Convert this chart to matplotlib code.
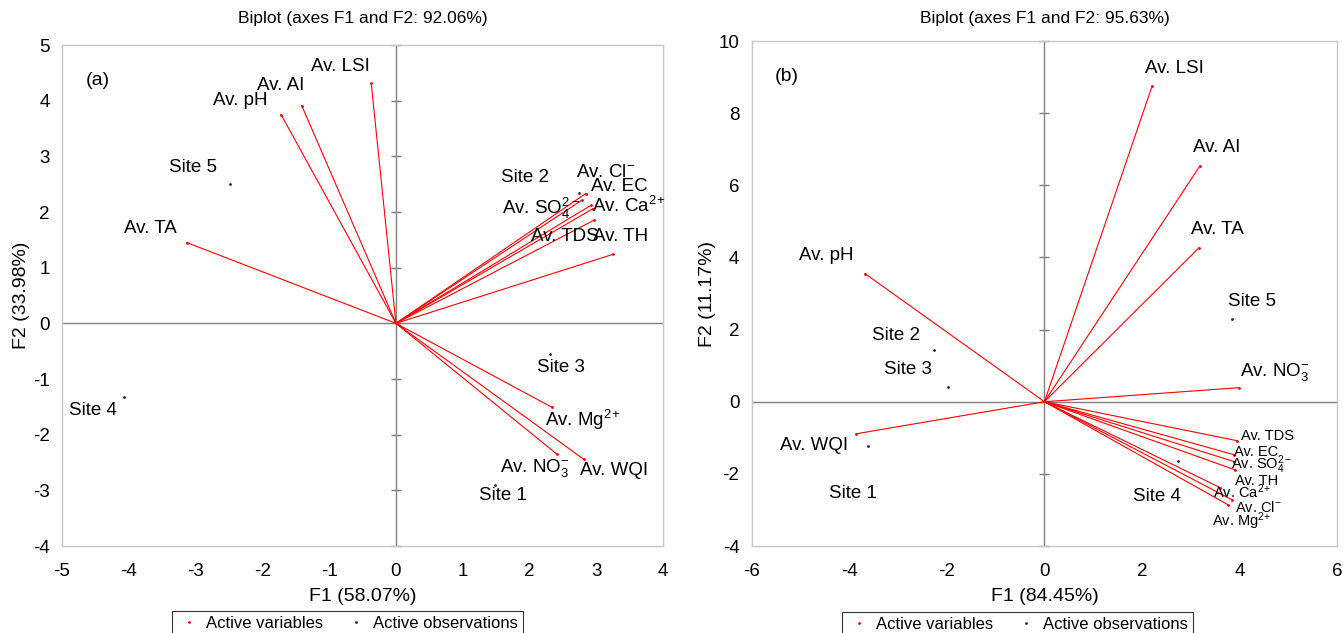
import numpy as np
import matplotlib
matplotlib.use("Agg")
import matplotlib.pyplot as plt
from matplotlib.lines import Line2D

plt.rcParams['font.family'] = ['Liberation Sans', 'DejaVu Sans']
plt.rcParams['mathtext.fontset'] = 'custom'
plt.rcParams['mathtext.rm'] = 'Liberation Sans'
plt.rcParams['mathtext.it'] = 'Liberation Sans'
plt.rcParams['axes.unicode_minus'] = False

# ---- panel (a) ----
a_vars = ['Av. LSI', 'Av. AI', 'Av. pH', 'Av. TA', 'Av. Cl$^{-}$', 'Av. EC',
          'Av. SO$_4^{2-}$', 'Av. Ca$^{2\\!+}$', 'Av. TDS', 'Av. TH',
          'Av. Mg$^{2\\!+}$', 'Av. NO$_3^{-}$', 'Av. WQI']
a_var_f1 = [-0.37, -1.41, -1.72, -3.13, 2.84, 2.92, 2.78, 2.95, 2.96, 3.25, 2.34, 2.41, 2.81]
a_var_f2 = [4.31, 3.91, 3.75, 1.45, 2.33, 2.12, 2.21, 2.06, 1.85, 1.24, -1.51, -2.35, -2.44]
a_sites = ['Site 1', 'Site 2', 'Site 3', 'Site 4', 'Site 5']
a_site_f1 = [1.48, 2.74, 2.31, -4.07, -2.49]
a_site_f2 = [-2.90, 2.35, -0.55, -1.33, 2.51]

# ---- panel (b) ----
b_vars = ['Av. LSI', 'Av. AI', 'Av. TA', 'Av. NO$_3^{-}$', 'Av. pH', 'Av. WQI',
          'Av. TDS', 'Av. EC', 'Av. SO$_4^{2-}$', 'Av. TH', 'Av. Ca$^{2\\!+}$',
          'Av. Cl$^{-}$', 'Av. Mg$^{2\\!+}$']
b_var_f1 = [2.21, 3.19, 3.17, 3.99, -3.68, -3.87, 3.95, 3.89, 3.89, 3.91, 3.60, 3.85, 3.77]
b_var_f2 = [8.76, 6.54, 4.27, 0.39, 3.55, -0.89, -1.08, -1.47, -1.66, -1.89, -2.38, -2.72, -2.86]
b_sites = ['Site 1', 'Site 2', 'Site 3', 'Site 4', 'Site 5']
b_site_f1 = [-3.62, -2.27, -1.98, 2.74, 3.85]
b_site_f2 = [-1.22, 1.44, 0.42, -1.64, 2.30]

# label offsets in pixels (dx, dy) and font sizes
a_var_off = [(-31, 17), (-21, 20), (-41, 14), (-37, 14), (20, 21), (28, 19),
             (-41, -8), (36, 3), (-29, -16), (8, 18), (30, -13), (-22, -14), (30, -11)]
a_site_off = [(8, -11), (-54, 15), (11, -14), (-31, -13), (-37, 16)]
b_var_off = [(22, 17), (17, 18), (18, 18), (36, 16), (-39, 18), (-42, -12),
             (30, 5), (22, 3), (28, -3), (22, -11), (22, -4), (26, -8), (13, -16)]
b_var_size = [13.5] * 6 + [10.5] * 7
b_site_off = [(-15, -48), (-38, 14), (-40, 17), (-21, -36), (20, 17)]


def biplot(ax, names, f1, f2, voff, vsize, sites, s1, s2, soff,
           xlim, ylim, xt, yt, title, xlabel, ylabel, tag, tpad, legx):
    ax.set_xlim(*xlim)
    ax.set_ylim(*ylim)
    ax.set_xticks(xt)
    ax.set_yticks(yt)
    ax.tick_params(length=0, labelsize=13.5)
    ax.tick_params(axis='x', pad=12)
    ax.tick_params(axis='y', pad=9)
    for s in ax.spines.values():
        s.set_color('#c8c8c8')
        s.set_linewidth(1.0)
    ax.axhline(0, color='#808080', lw=1.0, zorder=1)
    ax.axvline(0, color='#808080', lw=1.0, zorder=1)
    ax.plot(np.zeros(len(yt)), yt, ls='none', marker='_', ms=7, mew=1.0,
            color='#808080', zorder=1, clip_on=False)

    for name, x, y, off, fs in zip(names, f1, f2, voff, vsize):
        ax.plot([0, x], [0, y], color='red', lw=0.8, zorder=2)
        ax.plot(x, y, '.', color='red', ms=2, zorder=3)
        ax.annotate(name, (x, y), xytext=off, textcoords='offset pixels',
                    ha='center', va='center', fontsize=fs)
    for name, x, y, off in zip(sites, s1, s2, soff):
        ax.plot(x, y, '.', color='#1f2a4a', ms=2, zorder=3)
        ax.annotate(name, (x, y), xytext=off, textcoords='offset pixels',
                    ha='center', va='center', fontsize=13.5)

    ax.set_title(title, fontsize=12.5, pad=tpad)
    ax.set_xlabel(xlabel, fontsize=14, labelpad=6)
    ax.set_ylabel(ylabel, fontsize=14, labelpad=2)
    ax.text(0.06, 0.93, tag, transform=ax.transAxes, fontsize=14,
            ha='center', va='center')

    handles = [Line2D([], [], ls='none', marker='.', ms=2, color='red'),
               Line2D([], [], ls='none', marker='.', ms=2, color='#1f2a4a')]
    leg = ax.legend(handles, ['Active variables', 'Active observations'],
                    loc='upper center', bbox_to_anchor=(legx, -0.13),
                    ncol=2, frameon=True, fancybox=False, fontsize=12,
                    handlelength=1.4, handletextpad=0.3, columnspacing=1.3,
                    borderpad=0.3, borderaxespad=0)
    leg.get_frame().set_edgecolor('black')
    leg.get_frame().set_linewidth(0.8)


fig = plt.figure(figsize=(13.43, 6.33), dpi=100)
ax1 = fig.add_axes([0.0462, 0.1374, 0.4475, 0.7915])
ax2 = fig.add_axes([0.5599, 0.1374, 0.4356, 0.7978])

biplot(ax1, a_vars, a_var_f1, a_var_f2, a_var_off, [13.5] * 13,
       a_sites, a_site_f1, a_site_f2, a_site_off,
       (-5, 4), (-4, 5), range(-5, 5), range(-4, 6),
       'Biplot (axes F1 and F2: 92.06%)', 'F1 (58.07%)', 'F2 (33.98%)', '(a)',
       16, 0.475)
biplot(ax2, b_vars, b_var_f1, b_var_f2, b_var_off, b_var_size,
       b_sites, b_site_f1, b_site_f2, b_site_off,
       (-6, 6), (-4, 10), range(-6, 7, 2), range(-4, 11, 2),
       'Biplot (axes F1 and F2: 95.63%)', 'F1 (84.45%)', 'F2 (11.17%)', '(b)',
       13, 0.454)

fig.savefig('out.png', dpi=100)
